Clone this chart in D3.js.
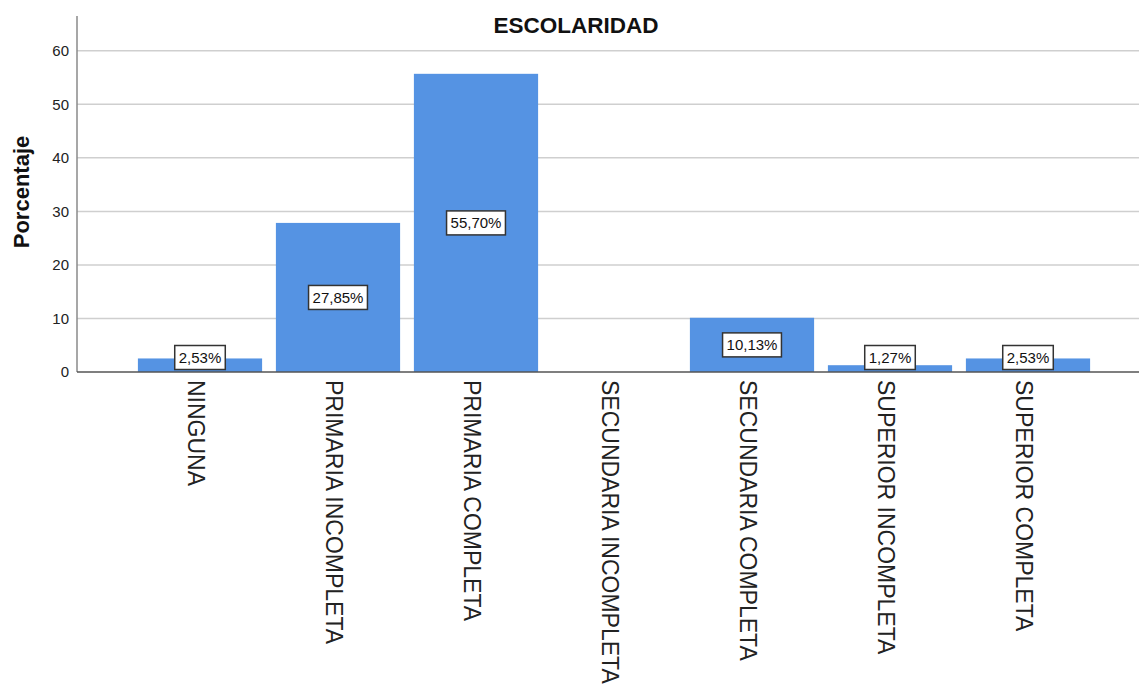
<!DOCTYPE html>
<html>
<head>
<meta charset="utf-8">
<script src="https://cdn.jsdelivr.net/npm/d3@7"></script>
<style>
    body { margin: 0; background: #fff; }
    svg { display: block; font-family: "Liberation Sans", Arial, sans-serif; }
</style>
</head>
<body>
<div id="chart"></div>
<script>
const categories = ["NINGUNA", "PRIMARIA INCOMPLETA", "PRIMARIA COMPLETA", "SECUNDARIA INCOMPLETA",
    "SECUNDARIA COMPLETA", "SUPERIOR INCOMPLETA", "SUPERIOR COMPLETA"]
const percentages = [2.53, 27.85, 55.70, 0, 10.13, 1.27, 2.53]
const yTicks = [0, 10, 20, 30, 40, 50, 60]

const width = 1139, height = 686
const axisX = 77, plotRight = 1139
const barColor = "#5593e3"

const svg = d3.select("#chart")
    .append("svg")
    .attr("width", width)
    .attr("height", height)

const x = d3.scaleBand()
    .domain(categories)
    .range([131, 1097])
    .paddingInner(0.1)
    .paddingOuter(0.05)

const y = d3.scaleLinear()
    .domain([0, 66.5])
    .range([372, 16])

const data = categories.map((c, i) => ({ category: c, value: percentages[i] }))

// gridlines
svg.append("g")
    .selectAll("line")
    .data(yTicks.filter(t => t > 0))
    .enter()
    .append("line")
    .attr("x1", axisX)
    .attr("x2", plotRight)
    .attr("y1", d => y(d))
    .attr("y2", d => y(d))
    .attr("stroke", "#cfcfcf")
    .attr("stroke-width", 1.5)

// y axis, labels only
const yAxis = svg.append("g")
    .attr("transform", `translate(${axisX},0)`)
    .call(d3.axisLeft(y).tickValues(yTicks).tickSize(0).tickPadding(8))
yAxis.select(".domain").remove()
yAxis.selectAll("text")
    .attr("font-size", 15)
    .attr("font-family", "Liberation Sans, Arial, sans-serif")
    .attr("fill", "#222")

// bars
svg.append("g")
    .selectAll("rect")
    .data(data.filter(d => d.value > 0))
    .enter()
    .append("rect")
    .attr("x", d => x(d.category))
    .attr("y", d => y(d.value))
    .attr("width", x.bandwidth())
    .attr("height", d => y(0) - y(d.value))
    .attr("fill", barColor)

// axis line and baseline
svg.append("line")
    .attr("x1", axisX).attr("x2", axisX)
    .attr("y1", 16).attr("y2", y(0))
    .attr("stroke", "#8a8a8a")
    .attr("stroke-width", 1.5)
svg.append("line")
    .attr("x1", axisX).attr("x2", plotRight)
    .attr("y1", y(0)).attr("y2", y(0))
    .attr("stroke", "#555")
    .attr("stroke-width", 1.5)

// value labels in boxes
const fmt = v => v.toFixed(2).replace(".", ",") + "%"
const labels = svg.append("g")
    .selectAll("g")
    .data(data.filter(d => d.value > 0))
    .enter()
    .append("g")
    .attr("transform", d => {
        const mid = (y(d.value) + y(0)) / 2
        return `translate(${x(d.category) + x.bandwidth() / 2},${Math.min(mid, 357.5)})`
    })
labels.append("text")
    .attr("text-anchor", "middle")
    .attr("dy", "0.36em")
    .attr("font-size", 15)
    .attr("fill", "#111")
    .text(d => fmt(d.value))
labels.each(function() {
    const g = d3.select(this)
    const bb = g.select("text").node().getBBox()
    g.insert("rect", "text")
        .attr("x", -bb.width / 2 - 4)
        .attr("y", -12)
        .attr("width", bb.width + 8)
        .attr("height", 24)
        .attr("fill", "#fff")
        .attr("stroke", "#333")
        .attr("stroke-width", 1.5)
})

// category labels, rotated
svg.append("g")
    .selectAll("text")
    .data(categories)
    .enter()
    .append("text")
    .attr("transform", d => `translate(${x(d) + x.bandwidth() / 2},380) rotate(90)`)
    .attr("y", 12)
    .attr("font-size", 23)
    .attr("fill", "#222")
    .text(d => d)

// titles
svg.append("text")
    .attr("x", 576)
    .attr("y", 33)
    .attr("text-anchor", "middle")
    .attr("font-size", 22.5)
    .attr("font-weight", "bold")
    .attr("fill", "#111")
    .text("ESCOLARIDAD")

svg.append("text")
    .attr("transform", "translate(29,192) rotate(-90)")
    .attr("text-anchor", "middle")
    .attr("font-size", 22)
    .attr("font-weight", "bold")
    .attr("fill", "#111")
    .text("Porcentaje")
</script>
</body>
</html>
